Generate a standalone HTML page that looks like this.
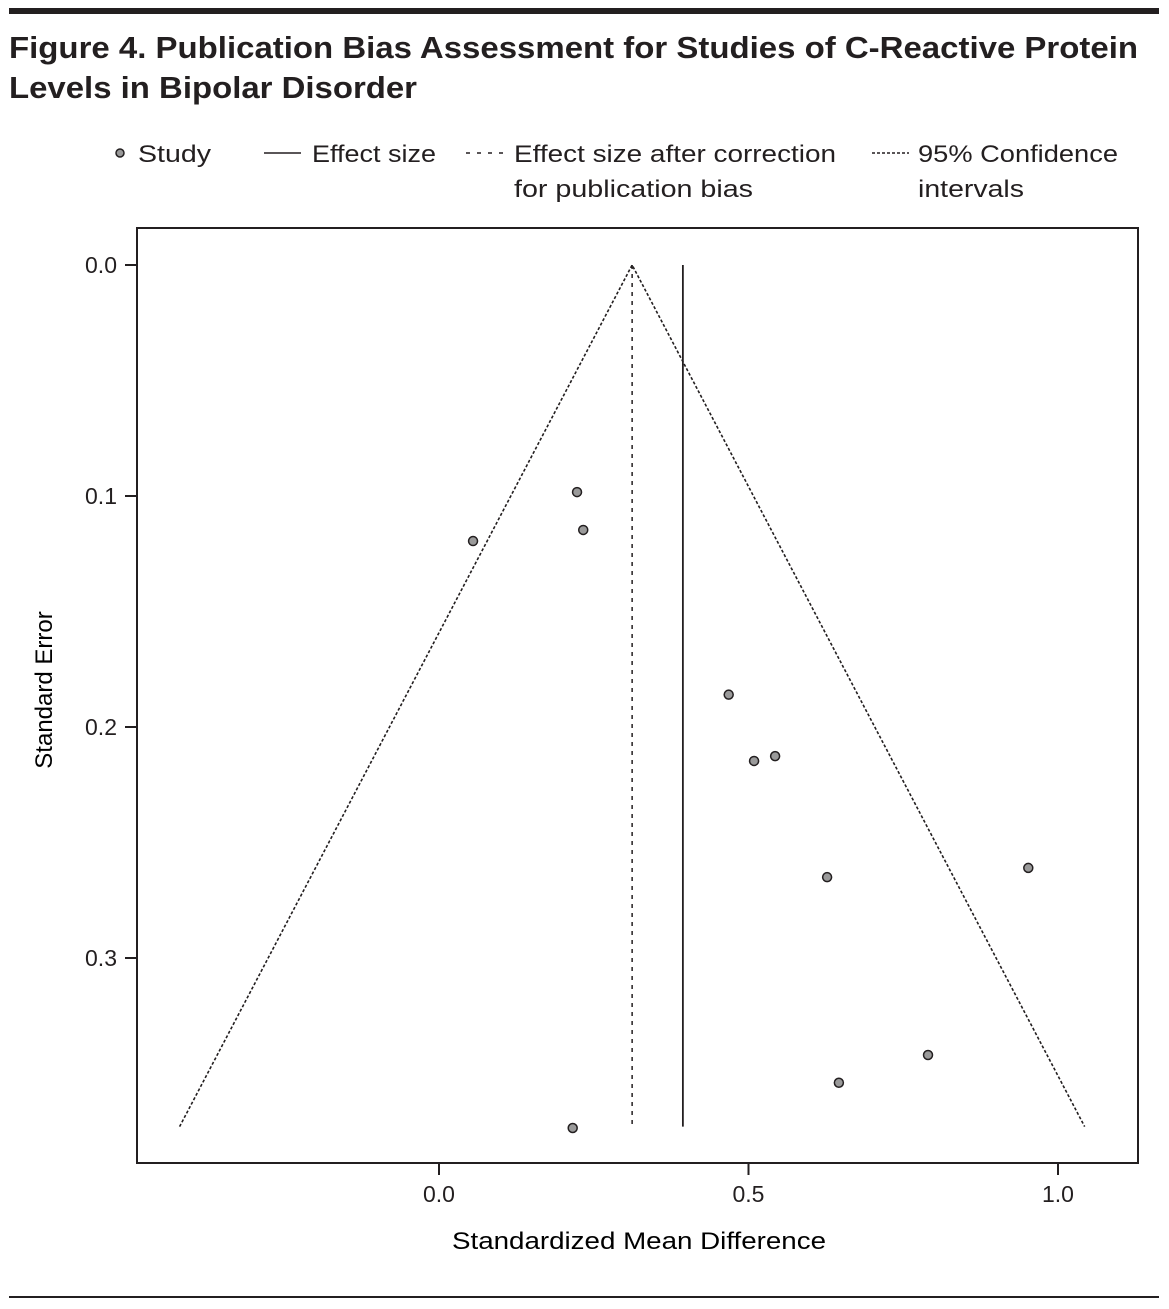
<!DOCTYPE html>
<html><head><meta charset="utf-8"><style>
body{margin:0;background:#fff;width:1169px;height:1309px;overflow:hidden;font-family:"Liberation Sans",sans-serif;color:#231f20}
</style></head><body>
<svg width="1169" height="1309" style="position:absolute;left:0;top:0">
<rect x="9" y="8" width="1150" height="6" fill="#231f20"/>
<text x="9" y="58" font-size="31" font-weight="bold" fill="#231f20" textLength="1129" lengthAdjust="spacingAndGlyphs">Figure 4. Publication Bias Assessment for Studies of C-Reactive Protein</text>
<text x="9" y="98" font-size="31" font-weight="bold" fill="#231f20" textLength="408" lengthAdjust="spacingAndGlyphs">Levels in Bipolar Disorder</text>
<g font-size="24" fill="#231f20">
<circle cx="120" cy="153" r="4" fill="#999" stroke="#231f20" stroke-width="1.5"/>
<text x="138" y="162" textLength="73" lengthAdjust="spacingAndGlyphs">Study</text>
<line x1="264" y1="153" x2="301" y2="153" stroke="#231f20" stroke-width="1.5"/>
<text x="312" y="162" textLength="124" lengthAdjust="spacingAndGlyphs">Effect size</text>
<line x1="466" y1="153" x2="503" y2="153" stroke="#231f20" stroke-width="1.5" stroke-dasharray="4,7"/>
<text x="514" y="162" textLength="322" lengthAdjust="spacingAndGlyphs">Effect size after correction</text>
<text x="514" y="197" textLength="239" lengthAdjust="spacingAndGlyphs">for publication bias</text>
<line x1="872" y1="153" x2="909" y2="153" stroke="#231f20" stroke-width="1.5" stroke-dasharray="3,2"/>
<text x="918" y="162" textLength="200" lengthAdjust="spacingAndGlyphs">95% Confidence</text>
<text x="918" y="197" textLength="106" lengthAdjust="spacingAndGlyphs">intervals</text>
</g>
<rect x="137" y="228" width="1001" height="935" fill="none" stroke="#231f20" stroke-width="2"/>
<g id="plot"></g>
<text x="452" y="1249" font-size="24" textLength="374" lengthAdjust="spacingAndGlyphs">Standardized Mean Difference</text>
<text transform="translate(52,690) rotate(-90)" font-size="24" text-anchor="middle">Standard Error</text>
<rect x="9" y="1296" width="1150" height="2" fill="#231f20"/>
</svg>
<script>
const studyX=[0.223,0.233,0.055,0.468,0.509,0.543,0.627,0.952,0.790,0.646,0.216];
const studySE=[0.0983,0.1147,0.1195,0.186,0.2147,0.2126,0.265,0.261,0.342,0.354,0.3736];
const effect=[0.394];
const corrected=[0.312];
const maxSE=[0.373];
const xTicks=[0.0,0.5,1.0];
const xTickLabels=["0.0","0.5","1.0"];
const yTicks=[0.0,0.1,0.2,0.3];
const yTickLabels=["0.0","0.1","0.2","0.3"];
const NS="http://www.w3.org/2000/svg";
const sx=v=>439+v*619;
const sy=v=>265+v*2310;
const g=document.getElementById('plot');
function mk(t,a){const e=document.createElementNS(NS,t);for(const k in a)e.setAttribute(k,a[k]);g.appendChild(e);return e;}
const c=corrected[0],m=maxSE[0];
const fun=mk('polyline',{points:`${sx(c-1.96*m)},${sy(m)} ${sx(c)},${sy(0)} ${sx(c+1.96*m)},${sy(m)}`,fill:'none',stroke:'#231f20','stroke-width':1.6,'stroke-dasharray':'3,2'});


const cl=mk('line',{x1:sx(c),y1:sy(0),x2:sx(c),y2:sy(m),stroke:'#231f20','stroke-width':1.5,'stroke-dasharray':'4,5'});


const el=mk('line',{x1:sx(effect[0]),y1:sy(0),x2:sx(effect[0]),y2:sy(m),stroke:'#231f20','stroke-width':1.8});


xTicks.forEach((v,i)=>{
 const l=mk('line',{x1:sx(v),y1:1163,x2:sx(v),y2:1175,stroke:'#231f20','stroke-width':2});
 
 
 const t=mk('text',{x:sx(v),y:1202,'font-size':23,'text-anchor':'middle',fill:'#231f20'});t.textContent=xTickLabels[i];
 
 
});
yTicks.forEach((v,i)=>{
 const l=mk('line',{x1:125,y1:sy(v),x2:137,y2:sy(v),stroke:'#231f20','stroke-width':2});
 
 
 const t=mk('text',{x:117,y:sy(v)+8,'font-size':23,'text-anchor':'end',fill:'#231f20'});t.textContent=yTickLabels[i];
 
 
});
studyX.forEach((v,i)=>{
 const p=mk('circle',{cx:sx(v),cy:sy(studySE[i]),r:4.5,fill:'#9a9a9a',stroke:'#231f20','stroke-width':1.5});
 
 
});
</script>
</body></html>
